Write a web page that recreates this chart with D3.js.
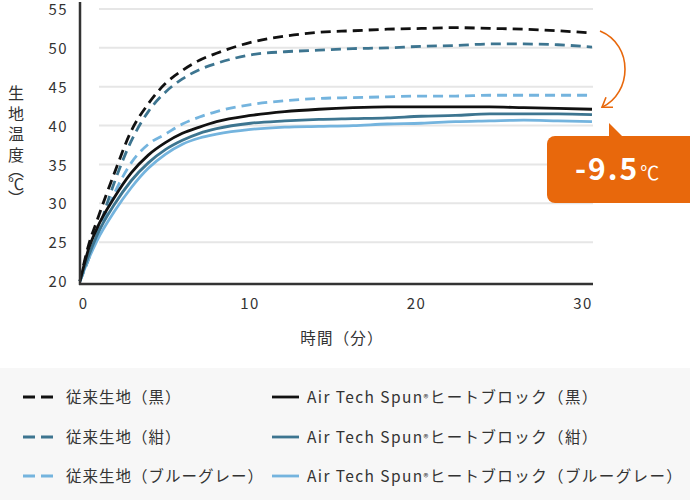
<!DOCTYPE html>
<html>
<head>
<meta charset="utf-8">
<script src="https://cdn.jsdelivr.net/npm/d3@7"></script>
<style>
  body { margin: 0; background: #fff; }
  svg { display: block; font-family: "Noto Sans CJK JP", "Noto Sans", sans-serif; }
</style>
</head>
<body>
<script>
// time (minutes) and fabric temperature (°C) for each curve
var times = [0, 0.5, 1, 2, 3, 4, 5, 6, 7, 8, 10, 12, 14, 16, 18, 20, 22, 24, 26, 28, 30];

var convBlack = [20, 24.6, 27.8, 33.8, 39.3, 42.8, 45.4, 47.1, 48.4, 49.3, 50.7, 51.5, 52.0, 52.2, 52.4, 52.5, 52.6, 52.5, 52.4, 52.2, 51.9];
var convNavy  = [20, 22.8, 26.0, 32.6, 38.0, 41.8, 44.3, 46.0, 47.2, 48.0, 49.1, 49.5, 49.7, 49.9, 50.0, 50.2, 50.3, 50.5, 50.5, 50.4, 50.1];
var convBlue  = [20, 23.0, 25.8, 31.2, 35.2, 37.6, 38.9, 40.2, 41.1, 41.8, 42.7, 43.2, 43.5, 43.6, 43.7, 43.8, 43.8, 43.9, 43.9, 43.9, 43.9];
var atsBlack  = [20, 24.1, 26.8, 30.7, 33.9, 36.2, 37.8, 39.0, 39.8, 40.5, 41.3, 41.8, 42.1, 42.3, 42.4, 42.4, 42.4, 42.4, 42.3, 42.2, 42.1];
var atsNavy   = [20, 23.2, 25.9, 29.8, 32.9, 35.2, 36.9, 38.1, 39.0, 39.6, 40.3, 40.6, 40.8, 40.9, 41.0, 41.2, 41.3, 41.5, 41.5, 41.5, 41.4];
var atsBlue   = [20, 22.8, 25.2, 28.9, 32.0, 34.5, 36.3, 37.6, 38.4, 38.9, 39.5, 39.8, 39.9, 40.0, 40.2, 40.3, 40.5, 40.6, 40.7, 40.6, 40.5];

var yTicks = [20, 25, 30, 35, 40, 45, 50, 55];
var xTicks = [0, 10, 20, 30];

var yTitle = ["生", "地", "温", "度", "︵", "℃", "︶"];
var legendConv = ["従来生地（黒）", "従来生地（紺）", "従来生地（ブルーグレー）"];
var legendAts  = ["ヒートブロック（黒）", "ヒートブロック（紺）", "ヒートブロック（ブルーグレー）"];
var colors = ["#111111", "#3d7590", "#74b4de"];

var diffLabel = "-9.5";

var series = [
  { values: convBlack, color: colors[0], dashed: true },
  { values: convNavy,  color: colors[1], dashed: true },
  { values: convBlue,  color: colors[2], dashed: true },
  { values: atsBlue,   color: colors[2], dashed: false },
  { values: atsNavy,   color: colors[1], dashed: false },
  { values: atsBlack,  color: colors[0], dashed: false }
];

var width = 690, height = 500;

var svg = d3.select("body").append("svg")
  .attr("width", width)
  .attr("height", height);

var x = d3.scaleLinear().domain([0, 30]).range([80, 592]);
var xLabel = d3.scaleLinear().domain([0, 30]).range([83.5, 583]);
var y = d3.scaleLinear().domain([20, 55]).range([281, 9]);

// grid
svg.append("g")
  .selectAll("line")
  .data(yTicks.filter(function(d) { return d > 20; }))
  .enter().append("line")
  .attr("x1", 99).attr("x2", 593)
  .attr("y1", function(d) { return y(d); })
  .attr("y2", function(d) { return y(d); })
  .attr("stroke", "#e6e6e6")
  .attr("stroke-width", 2);

// y tick labels
svg.append("g")
  .selectAll("text")
  .data(yTicks)
  .enter().append("text")
  .attr("x", 68)
  .attr("y", function(d) { return y(d) + 1; })
  .attr("dy", "0.34em")
  .attr("text-anchor", "end")
  .attr("font-size", 15)
  .attr("letter-spacing", 1.4)
  .attr("fill", "#333")
  .text(function(d) { return d; });

// x tick labels
svg.append("g")
  .selectAll("text")
  .data(xTicks)
  .enter().append("text")
  .attr("x", function(d) { return xLabel(d); })
  .attr("y", 309)
  .attr("text-anchor", "middle")
  .attr("font-size", 15)
  .attr("letter-spacing", 1.4)
  .attr("fill", "#333")
  .text(function(d) { return d; });

// lines
var line = d3.line()
  .x(function(d, i) { return x(times[i]); })
  .y(function(d) { return y(d); })
  .curve(d3.curveMonotoneX);

svg.append("g")
  .selectAll("path")
  .data(series)
  .enter().append("path")
  .attr("d", function(d) { return line(d.values); })
  .attr("fill", "none")
  .attr("stroke", function(d) { return d.color; })
  .attr("stroke-width", 2.8)
  .attr("stroke-dasharray", function(d) { return d.dashed ? "10,6" : null; });

// axes
svg.append("line")
  .attr("x1", 80).attr("x2", 80)
  .attr("y1", 2).attr("y2", 285)
  .attr("stroke", "#333").attr("stroke-width", 2.5);
svg.append("line")
  .attr("x1", 79).attr("x2", 593)
  .attr("y1", 284).attr("y2", 284)
  .attr("stroke", "#333").attr("stroke-width", 2.5);

// y title, stacked vertically in one text element
var titleY = [93, 114, 134, 155, 170, 184, 198];
svg.append("text")
  .attr("text-anchor", "middle")
  .attr("font-size", 16)
  .attr("fill", "#333")
  .selectAll("tspan")
  .data(yTitle)
  .enter().append("tspan")
  .attr("x", 16)
  .attr("y", function(d, i) { return titleY[i] + 6; })
  .text(function(d) { return d; });

svg.append("text")
  .attr("x", 342).attr("y", 344)
  .attr("text-anchor", "middle")
  .attr("font-size", 15.5)
  .attr("letter-spacing", 1.2)
  .attr("fill", "#333")
  .text("時間（分）");

// annotation arrow and badge
var orange = "#e8680c";
var ax0 = x(30) + 8, ay0 = y(convBlack[convBlack.length - 1]) - 2;
var ax1 = x(30) + 10, ay1 = y(atsBlack[atsBlack.length - 1]) - 2;
svg.append("path")
  .attr("d", "M" + ax0 + "," + ay0 + " C" + (ax0 + 34) + "," + (ay0 + 14) + " " + (ax0 + 32) + "," + (ay1 - 14) + " " + ax1 + "," + ay1)
  .attr("fill", "none")
  .attr("stroke", orange)
  .attr("stroke-width", 1.6);
svg.append("path")
  .attr("d", "M" + (ax1 + 4) + "," + (ay1 - 10) + " L" + ax1 + "," + ay1 + " L" + (ax1 + 11) + "," + ay1)
  .attr("fill", "none")
  .attr("stroke", orange)
  .attr("stroke-width", 1.6);

var badge = svg.append("g");
badge.append("rect")
  .attr("x", 547).attr("y", 136)
  .attr("width", 150).attr("height", 67)
  .attr("rx", 8)
  .attr("fill", orange);
badge.append("path")
  .attr("d", "M609,123 L609,137 L623,137 Z")
  .attr("fill", orange);
var bt = badge.append("text")
  .attr("x", 575).attr("y", 180)
  .attr("fill", "#fff");
bt.append("tspan")
  .attr("font-size", 30)
  .attr("font-weight", "bold")
  .attr("letter-spacing", 2)
  .text(diffLabel);
bt.append("tspan")
  .attr("font-size", 19)
  .attr("dx", 1)
  .text("℃");

// legend
svg.append("rect")
  .attr("x", 0).attr("y", 368)
  .attr("width", width).attr("height", height - 368)
  .attr("fill", "#f7f7f7");

var rowY = [397, 437, 476];
var leg = svg.append("g");

leg.selectAll(".conv")
  .data(legendConv)
  .enter().append("line")
  .attr("x1", 23).attr("x2", 53)
  .attr("y1", function(d, i) { return rowY[i]; })
  .attr("y2", function(d, i) { return rowY[i]; })
  .attr("stroke", function(d, i) { return colors[i]; })
  .attr("stroke-width", 2.8)
  .attr("stroke-dasharray", "12,6");

leg.selectAll(".convText")
  .data(legendConv)
  .enter().append("text")
  .attr("x", 66)
  .attr("y", function(d, i) { return rowY[i]; })
  .attr("dy", "0.36em")
  .attr("font-size", 15.5)
  .attr("letter-spacing", 1.0)
  .attr("fill", "#333")
  .text(function(d) { return d; });

leg.selectAll(".ats")
  .data(legendAts)
  .enter().append("line")
  .attr("x1", 272).attr("x2", 299)
  .attr("y1", function(d, i) { return rowY[i]; })
  .attr("y2", function(d, i) { return rowY[i]; })
  .attr("stroke", function(d, i) { return colors[i]; })
  .attr("stroke-width", 2.8);

var atsText = leg.selectAll(".atsText")
  .data(legendAts)
  .enter().append("text")
  .attr("x", 307)
  .attr("y", function(d, i) { return rowY[i]; })
  .attr("dy", "0.36em")
  .attr("font-size", 15.5)
  .attr("letter-spacing", 1.4)
  .attr("fill", "#333");
atsText.append("tspan").text("Air Tech Spun");
atsText.append("tspan").attr("font-size", 10).attr("dy", -1).text("®");
atsText.append("tspan").attr("dy", 1).text(function(d) { return d; });
</script>
</body>
</html>
